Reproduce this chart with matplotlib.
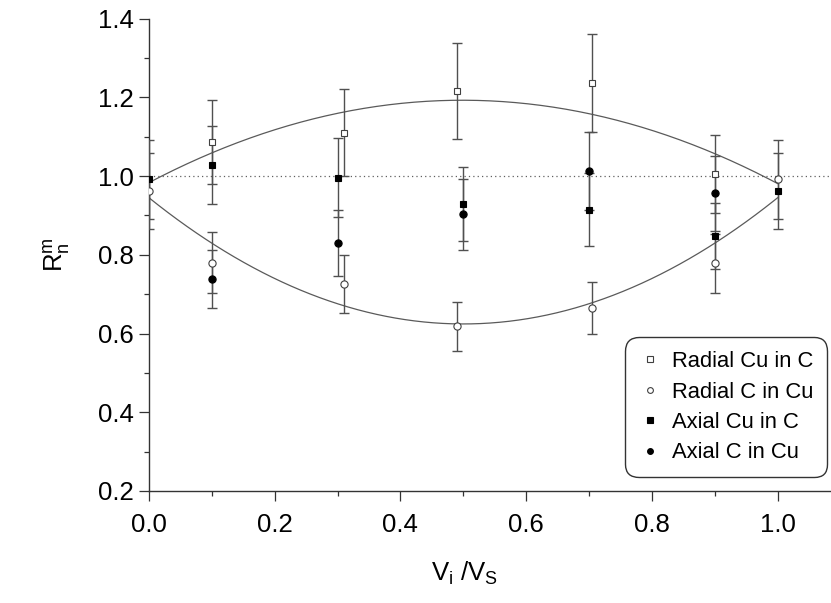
import matplotlib
matplotlib.use('Agg')
import matplotlib.pyplot as plt
from matplotlib.ticker import MultipleLocator
import numpy as np

plt.rcParams['font.family'] = ['Liberation Sans', 'DejaVu Sans']
plt.rcParams['mathtext.fontset'] = 'custom'
plt.rcParams['mathtext.rm'] = 'Liberation Sans'
plt.rcParams['mathtext.it'] = 'Liberation Sans'

# data
radial_cu_x = [0.1, 0.31, 0.49, 0.705, 0.9]
radial_cu_y = [1.086, 1.110, 1.217, 1.237, 1.005]
radial_cu_err = [0.107, 0.111, 0.122, 0.124, 0.100]

radial_c_x = [0.0, 0.1, 0.31, 0.49, 0.705, 0.9, 1.0]
radial_c_y = [0.962, 0.780, 0.726, 0.618, 0.666, 0.778, 0.992]
radial_c_err = [0.097, 0.077, 0.073, 0.062, 0.066, 0.076, 0.100]

axial_cu_x = [0.0, 0.1, 0.3, 0.5, 0.7, 0.9, 1.0]
axial_cu_y = [0.992, 1.028, 0.996, 0.929, 0.915, 0.848, 0.962]
axial_cu_err = [0.100, 0.100, 0.100, 0.093, 0.093, 0.083, 0.097]

axial_c_x = [0.1, 0.3, 0.5, 0.7, 0.9]
axial_c_y = [0.738, 0.830, 0.903, 1.013, 0.956]
axial_c_err = [0.074, 0.083, 0.090, 0.100, 0.096]

# fitted curves, read at steps of 0.1
curve_x = [0.0, 0.1, 0.2, 0.3, 0.4, 0.5, 0.6, 0.7, 0.8, 0.9, 1.0]
upper_curve = [0.984, 1.057, 1.118, 1.160, 1.185, 1.193, 1.185, 1.158, 1.116, 1.053, 0.984]
lower_curve = [0.945, 0.829, 0.740, 0.676, 0.637, 0.624, 0.637, 0.676, 0.740, 0.829, 0.945]

fig = plt.figure(figsize=(8.31, 6.03), dpi=100)
ax = fig.add_axes([149 / 831, 1 - 491 / 603, 682 / 831, (491 - 18.6) / 603])

ebar_col = '#505050'
line_col = '#5a5a5a'

# smooth fit lines through the read values
xs = np.linspace(0, 1, 200)
for cy in (upper_curve, lower_curve):
    p = np.polyfit(curve_x, cy, 2)
    ax.plot(xs, np.polyval(p, xs), color=line_col, lw=0.9, zorder=2)

ax.axhline(1.0, color='#606060', lw=0.9, ls=(0, (1, 2.5)), zorder=1)

series = [
    (radial_cu_x, radial_cu_y, radial_cu_err, 's', 'white', 'Radial Cu in C'),
    (radial_c_x, radial_c_y, radial_c_err, 'o', 'white', 'Radial C in Cu'),
    (axial_cu_x, axial_cu_y, axial_cu_err, 's', 'black', 'Axial Cu in C'),
    (axial_c_x, axial_c_y, axial_c_err, 'o', 'black', 'Axial C in Cu'),
]
for x, y, e, m, fc, lab in series:
    ax.errorbar(x, y, yerr=e, fmt='none', ecolor=ebar_col, elinewidth=1.0,
                capsize=3.5, capthick=1.0, zorder=3)
    ms = 4.6 if m == 's' else 5.2
    ec = '#404040' if fc == 'white' else 'black'
    ax.plot(x, y, ls='none', marker=m, ms=ms, mfc=fc, mec=ec, mew=0.8,
            label=lab, zorder=4)

ax.set_xlim(0, 1.085)
ax.set_ylim(0.2, 1.4)
ax.xaxis.set_minor_locator(MultipleLocator(0.1))
ax.yaxis.set_minor_locator(MultipleLocator(0.1))
ax.set_xticks([0.0, 0.2, 0.4, 0.6, 0.8, 1.0])
ax.set_xticklabels(['0.0', '0.2', '0.4', '0.6', '0.8', '1.0'])
ax.set_yticks([0.2, 0.4, 0.6, 0.8, 1.0, 1.2, 1.4])
ax.set_yticklabels(['0.2', '0.4', '0.6', '0.8', '1.0', '1.2', '1.4'])

for side in ('top', 'right'):
    ax.spines[side].set_visible(False)
for side in ('left', 'bottom'):
    ax.spines[side].set_color('#333333')
    ax.spines[side].set_linewidth(1.0)

ax.tick_params(which='major', direction='out', length=7, width=0.9,
               color='#333333', labelsize=18.5)
ax.tick_params(which='minor', direction='out', length=3.6, width=0.9,
               color='#333333')
ax.tick_params(axis='x', which='major', pad=8.5)
ax.tick_params(axis='y', which='major', pad=4)

ax.set_xlabel(r'$\mathrm{V_i\ /V_S}$', fontsize=18.5)
ax.xaxis.set_label_coords(0.463, -0.145)
ax.set_ylabel(r'$\mathrm{R_n^m}$', fontsize=18.5)
ax.yaxis.set_label_coords(-0.113, 0.5)

leg = ax.legend(loc='lower right', bbox_to_anchor=(827 / 831, 1 - 477 / 603),
                bbox_transform=fig.transFigure, borderaxespad=0,
                fontsize=15.8, markerscale=0.8, handlelength=1.0,
                handletextpad=0.5, borderpad=0.62, labelspacing=0.43,
                frameon=True, fancybox=True)
leg.get_frame().set_edgecolor('black')
leg.get_frame().set_linewidth(1.0)
leg.get_frame().set_boxstyle('round,pad=0,rounding_size=0.6')

fig.savefig('out.png', dpi=100)
